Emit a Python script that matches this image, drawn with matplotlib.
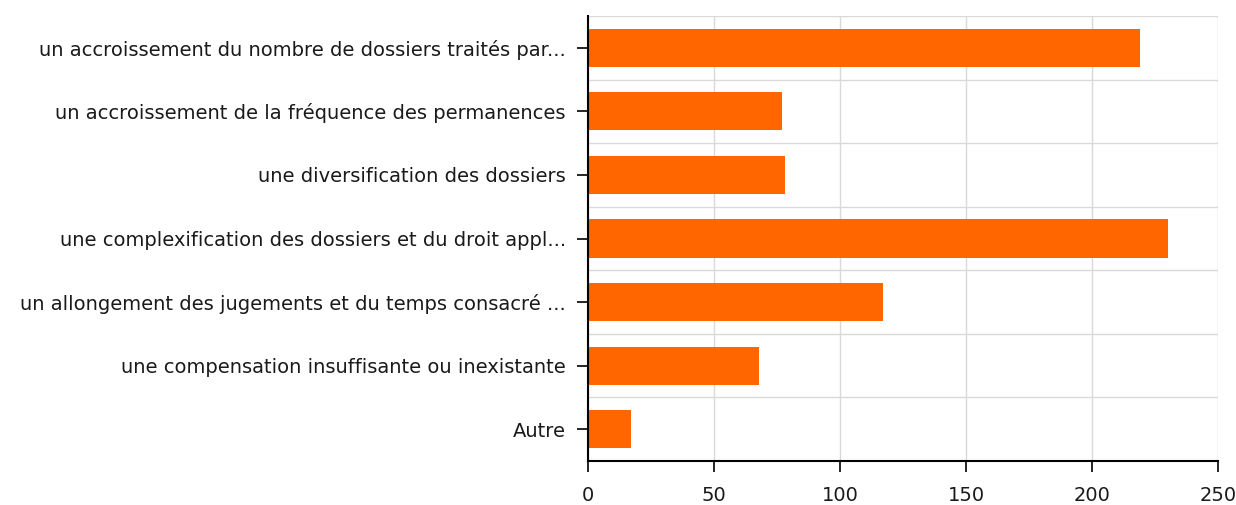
import matplotlib
matplotlib.use("Agg")
import matplotlib.pyplot as plt
import numpy as np

# categories, top to bottom as in the chart
categories = [
    "un accroissement du nombre de dossiers traités par...",
    "un accroissement de la fréquence des permanences",
    "une diversification des dossiers",
    "une complexification des dossiers et du droit appl...",
    "un allongement des jugements et du temps consacré ...",
    "une compensation insuffisante ou inexistante",
    "Autre",
]
values = [219, 77, 78, 230, 117, 68, 17]
xticks = [0, 50, 100, 150, 200, 250]

fig = plt.figure(figsize=(12.36, 5.05), dpi=100)
ax = fig.add_axes([588 / 1236, 1 - 461 / 505, 630 / 1236, 445 / 505])

n = len(categories)
ypos = np.arange(n)[::-1]
ax.barh(ypos, values, height=0.6, color="#FF6600", zorder=3)

ax.set_xlim(0, 250)
ax.set_ylim(-0.5, n - 0.5)
ax.set_xticks(xticks)
ax.set_yticks(ypos)
ax.set_yticklabels(categories)

# gridlines: vertical at ticks, horizontal between categories
ax.set_yticks(np.arange(n) + 0.5, minor=True)
ax.grid(axis="x", which="major", color="#d9d9d9", linewidth=1, zorder=0)
ax.grid(axis="y", which="minor", color="#d9d9d9", linewidth=1, zorder=0)
ax.tick_params(axis="y", which="minor", length=0)

ax.tick_params(axis="both", which="major", direction="out", length=8, width=1.2,
               color="black", labelsize=14, labelcolor="#1a1a1a")
ax.tick_params(axis="x", pad=10)
ax.tick_params(axis="y", pad=8)

for s in ["top", "right"]:
    ax.spines[s].set_visible(False)
for s in ["left", "bottom"]:
    ax.spines[s].set_color("black")
    ax.spines[s].set_linewidth(1.5)
    ax.spines[s].set_zorder(4)

fig.savefig("out.png", dpi=100)
